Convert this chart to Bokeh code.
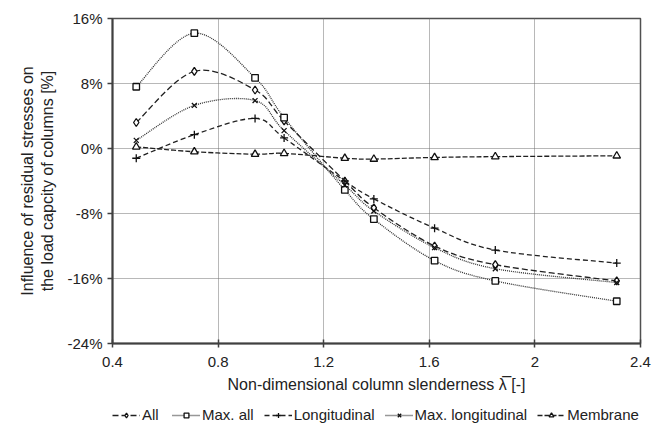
import numpy as np
from bokeh.plotting import figure
from bokeh.layouts import column
from bokeh.models import (ColumnDataSource, FixedTicker, PrintfTickFormatter,
                          CustomJSTickFormatter, Legend, LegendItem, Range1d)
from bokeh.embed import file_html
from bokeh.resources import INLINE

# ---- data ----
slenderness = [0.49, 0.71, 0.94, 1.05, 1.28, 1.39, 1.62, 1.85, 2.31]
all_vals = [3.2, 9.5, 7.2, 3.4, -4.0, -7.3, -12.0, -14.3, -16.3]
max_all = [7.6, 14.2, 8.7, 3.8, -5.1, -8.7, -13.8, -16.3, -18.8]
longitudinal = [-1.2, 1.7, 3.7, 1.3, -4.0, -6.2, -9.8, -12.5, -14.1]
max_longitudinal = [1.0, 5.3, 5.9, 2.2, -4.5, -7.7, -12.2, -14.8, -16.5]
membrane = [0.2, -0.4, -0.7, -0.6, -1.2, -1.3, -1.1, -1.0, -0.9]

x_ticks = [0.4, 0.8, 1.2, 1.6, 2.0, 2.4]
y_ticks = [-24, -16, -8, 0, 8, 16]

series = [
    ("All", all_vals, "diamond", "6 3", "#202020", 8),
    ("Max. all", max_all, "square", "1 1", "#303030", 6.5),
    ("Longitudinal", longitudinal, "cross", "5 3", "#202020", 8),
    ("Max. longitudinal", max_longitudinal, "x", "1 1", "#303030", 7),
    ("Membrane", membrane, "triangle", "5 2", "#202020", 7.5),
]

FONT = "Liberation Sans"

p = figure(width=653, height=401, output_backend="svg", toolbar_location=None,
           x_range=Range1d(0.4, 2.4), y_range=Range1d(-24, 16),
           min_border_left=112, min_border_right=13, min_border_top=18,
           min_border_bottom=58)
p.outline_line_color = "#505050"
p.outline_line_width = 1.5

# separate strip under the chart that only holds the legend
leg = figure(width=653, height=27, output_backend="svg", toolbar_location=None,
             x_range=Range1d(100, 101), y_range=Range1d(100, 101),
             x_axis_type=None, y_axis_type=None, min_border=0)
leg.outline_line_color = None
leg.grid.visible = False


def smooth_segments(xs, ys):
    xs = np.asarray(xs, float)
    ys = np.asarray(ys, float)
    n = len(xs)
    x0, y0, x1, y1, cx0, cy0, cx1, cy1 = ([] for _ in range(8))
    for i in range(n - 1):
        ip = max(i - 1, 0)
        inx = min(i + 2, n - 1)
        x0.append(xs[i]); y0.append(ys[i])
        x1.append(xs[i + 1]); y1.append(ys[i + 1])
        cx0.append(xs[i] + (xs[i + 1] - xs[ip]) / 6.0)
        cy0.append(ys[i] + (ys[i + 1] - ys[ip]) / 6.0)
        cx1.append(xs[i + 1] - (xs[inx] - xs[i]) / 6.0)
        cy1.append(ys[i + 1] - (ys[inx] - ys[i]) / 6.0)
    return dict(x0=x0, y0=y0, x1=x1, y1=y1, cx0=cx0, cy0=cy0, cx1=cx1, cy1=cy1)


items = []
for name, vals, marker, dash, color, msize in series:
    seg = ColumnDataSource(smooth_segments(slenderness, vals))
    src = ColumnDataSource(dict(x=slenderness, y=vals))
    rs = []
    for fig in (p, leg):
        lr = fig.bezier(x0="x0", y0="y0", x1="x1", y1="y1", cx0="cx0", cy0="cy0",
                        cx1="cx1", cy1="cy1", source=seg, line_color=color,
                        line_width=1.3, line_dash=dash)
        sr = fig.scatter("x", "y", source=src, marker=marker, size=msize,
                         fill_color="white", line_color="#101010", line_width=1.3)
        rs.append((lr, sr))
    items.append(LegendItem(label=name, renderers=list(rs[1])))

# axes
p.xaxis.ticker = FixedTicker(ticks=x_ticks)
p.xaxis.formatter = CustomJSTickFormatter(code="return String(Math.round(tick*10)/10)")
p.yaxis.ticker = FixedTicker(ticks=y_ticks)
p.yaxis.formatter = PrintfTickFormatter(format="%d%%")
for ax in (p.xaxis, p.yaxis):
    ax.axis_line_color = "#404040"
    ax.axis_line_width = 2
    ax.major_tick_line_color = "#404040"
    ax.major_tick_line_width = 1.5
    ax.minor_tick_line_color = None
    ax.major_label_text_font = FONT
    ax.major_label_text_font_size = "15px"
    ax.major_label_text_color = "#222222"
    ax.axis_label_text_font = FONT
    ax.axis_label_text_font_size = "16px"
    ax.axis_label_text_font_style = "normal"
    ax.axis_label_text_color = "#222222"
p.xaxis.major_tick_in = 4
p.xaxis.major_tick_out = 4
p.yaxis.major_tick_in = 0
p.yaxis.major_tick_out = 5
p.xaxis.major_label_standoff = 9
p.yaxis.major_label_standoff = 5
p.xaxis.axis_label = "Non-dimensional column slenderness \u03bb\u0305 [-]"
p.yaxis.axis_label = "Influence of residual stresses on\nthe load capcity of columns [%]"
p.xaxis.axis_label_standoff = 6
p.yaxis.axis_label_standoff = 8

p.xgrid.ticker = FixedTicker(ticks=x_ticks)
p.ygrid.ticker = FixedTicker(ticks=y_ticks)
for g in (p.xgrid, p.ygrid):
    g.grid_line_color = "#707070"
    g.grid_line_dash = "1 1"
    g.grid_line_width = 1

legend = Legend(items=items, orientation="horizontal", location=(0, 5),
                label_text_font=FONT, label_text_font_size="15px",
                label_text_color="#222222", glyph_width=28, glyph_height=12,
                label_standoff=2, spacing=10, padding=0, margin=0,
                border_line_color=None, background_fill_alpha=0,
                label_height=15)
leg.add_layout(legend, "center")

layout = column(p, leg, spacing=0)
open("out.html", "w").write(file_html(layout, INLINE))
